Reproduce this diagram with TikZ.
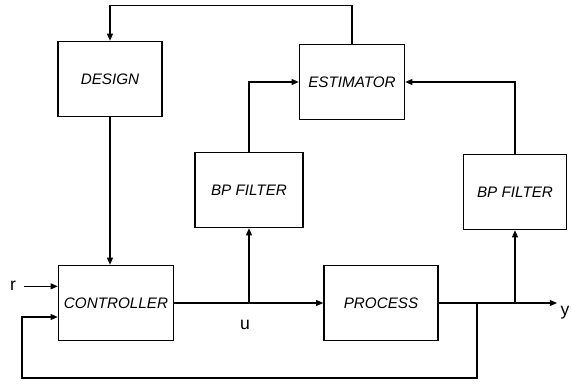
\documentclass[tikz,border=0pt]{standalone}
\usepackage{fontspec}
\setmainfont{Liberation Sans}
\usepackage{tikz}
\usetikzlibrary{arrows.meta}

\begin{document}
\begin{tikzpicture}[x=0.03cm, y=-0.03cm,
    block/.style={draw, line width=1.3pt, inner sep=0pt, minimum height=2.25cm,
        font=\fontsize{13}{15}\selectfont\itshape},
    link/.style={line width=0.9pt, -{Triangle[length=6pt,width=5pt]}},
    sig/.style={font=\fontsize{15}{17}\selectfont}]
    \useasboundingbox (0,0) rectangle (571,385);

    % Blocks
    \node[block, minimum width=3.12cm] (design) at (110,79) {DESIGN};
    \node[block, minimum width=3.15cm] (est) at (352,82) {ESTIMATOR};
    \node[block, minimum width=3.25cm] (bpfu) at (249,190) {BP FILTER};
    \node[block, minimum width=3.1cm] (bpfy) at (515,192) {BP FILTER};
    \node[block, minimum width=3.45cm] (ctrl) at (116,303) {CONTROLLER};
    \node[block, minimum width=3.42cm] (proc) at (381,303) {PROCESS};

    % Signals
    \coordinate (rin) at ([yshift=0.5cm]ctrl.west);
    \coordinate (fbin) at ([yshift=-0.42cm]ctrl.west);
    \node[sig, anchor=east] (r) at (20,286) {r};
    \node[sig] (u) at (245,325) {u};
    \node[sig] (y) at (565,313) {y};
    \coordinate (ubr) at (bpfu.south |- ctrl.east);
    \coordinate (ybr) at (bpfy.south |- proc.east);
    \coordinate (fb) at (477,303);
    \coordinate (fbc) at (22,378);
    \coordinate (yend) at (557,303);

    % Connections
    \draw[link] (est.north) -- ++(0,-38) -| (design.north);
    \draw[link] (design.south) -- (design.south |- ctrl.north);
    \draw[link] ([xshift=3pt]r.east |- rin) -- (rin);
    \draw[link] (ctrl.east) -- (proc.west);
    \draw[link] (ubr) -- (bpfu.south);
    \draw[link] (bpfu.north) |- (est.west);
    \draw[link] (proc.east) -- (yend);
    \draw[link] (ybr) -- (bpfy.south);
    \draw[link] (bpfy.north) |- (est.east);
    \draw[link] (fb) |- (fbc) |- (fbin);
\end{tikzpicture}
\end{document}
